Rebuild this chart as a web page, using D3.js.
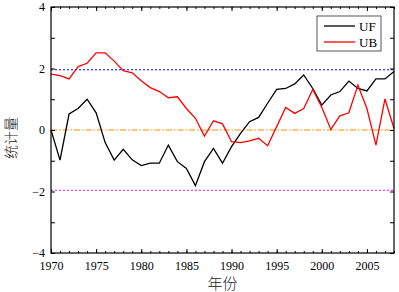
<!DOCTYPE html>
<html><head><meta charset="utf-8">
<script src="https://cdn.jsdelivr.net/npm/d3@7"></script>
<style>body{margin:0;background:#fff}svg{display:block}</style>
</head><body>
<svg id="c" width="399" height="292"></svg>
<script>
const years = d3.range(1970, 2009);
const UF = [0,-0.98,0.52,0.7,1.0,0.56,-0.41,-0.98,-0.63,-0.97,-1.16,-1.08,-1.08,-0.49,-1.03,-1.25,-1.81,-1.03,-0.6,-1.08,-0.54,-0.11,0.27,0.41,0.87,1.32,1.35,1.5,1.79,1.35,0.81,1.14,1.25,1.59,1.35,1.27,1.66,1.66,1.9];
const UB = [1.82,1.77,1.66,2.06,2.17,2.51,2.51,2.24,1.93,1.86,1.6,1.38,1.25,1.05,1.08,0.7,0.38,-0.2,0.3,0.2,-0.38,-0.41,-0.35,-0.27,-0.51,0.11,0.73,0.54,0.7,1.32,0.74,0.02,0.46,0.56,1.46,0.7,-0.49,1.01,0.05];
const xTicks = [1970,1975,1980,1985,1990,1995,2000,2005];
const yTicks = [-4,-2,0,2,4];
const refLines = [{v:1.96,c:"#0000ff",d:"2,2"},{v:0,c:"#ff8c00",d:"6,2,1.5,2"},{v:-1.96,c:"#ff00ff",d:"2,2"}];
const seriesNames = ["UF","UB"];
const seriesColors = ["#000000","#ff0000"];

const L=51,R=394,T=7,B=253;
const svg=d3.select("#c");
const x=d3.scaleLinear().domain([1970,2008]).range([L,R]);
const y=d3.scaleLinear().domain([-4,4]).range([B,T]);
const font="Liberation Serif, Times New Roman, serif";

refLines.forEach(r=>{
  svg.append("line").attr("x1",L).attr("x2",R).attr("y1",y(r.v)).attr("y2",y(r.v))
    .attr("stroke",r.c).attr("stroke-width",1.2).attr("stroke-dasharray",r.d);
});

const line=d3.line().x((d,i)=>x(years[i])).y(d=>y(d));
[UF,UB].forEach((s,k)=>{
  svg.append("path").datum(s).attr("d",line).attr("fill","none")
    .attr("stroke",seriesColors[k]).attr("stroke-width",1.3).attr("stroke-linejoin","miter");
});

svg.append("rect").attr("x",L).attr("y",T).attr("width",R-L).attr("height",B-T)
  .attr("fill","none").attr("stroke","#000").attr("stroke-width",1.2);

const minorX=d3.range(1970,2009);
const gb=svg.append("g").attr("transform",`translate(0,${B})`)
  .call(d3.axisBottom(x).tickValues(minorX).tickSize(-2).tickFormat(""));
const gb2=svg.append("g").attr("transform",`translate(0,${B})`)
  .call(d3.axisBottom(x).tickValues(xTicks).tickSize(-4).tickPadding(8).tickFormat(d3.format("d")));
const gt=svg.append("g").attr("transform",`translate(0,${T})`)
  .call(d3.axisTop(x).tickValues(minorX).tickSize(-2).tickFormat(""));
const gt2=svg.append("g").attr("transform",`translate(0,${T})`)
  .call(d3.axisTop(x).tickValues(xTicks).tickSize(-4).tickFormat(""));
const gl=svg.append("g").attr("transform",`translate(${L},0)`)
  .call(d3.axisLeft(y).tickValues(d3.range(-4,5)).tickSize(-4).tickFormat(""));
const gl2=svg.append("g").attr("transform",`translate(${L},0)`)
  .call(d3.axisLeft(y).tickValues(yTicks).tickSize(0).tickPadding(6).tickFormat(d=>d<0?"\u2212"+Math.abs(d):d));
const gr=svg.append("g").attr("transform",`translate(${R},0)`)
  .call(d3.axisRight(y).tickValues(d3.range(-4,5)).tickSize(-4).tickFormat(""));
[gb,gb2,gt,gt2,gl,gl2,gr].forEach(g=>{
  g.select(".domain").remove();
  g.selectAll("line").attr("stroke","#000").attr("stroke-width",1);
  g.selectAll("text").attr("font-family",font).attr("font-size",12).attr("fill","#000");
});

svg.append("text").attr("x",(L+R)/2).attr("y",289).attr("text-anchor","middle")
  .attr("font-family","Noto Sans CJK SC").attr("font-weight",300).attr("font-size",15).attr("fill","#222").text("年份");
svg.append("text").attr("transform",`translate(16,${(T+B)/2+8}) rotate(-90)`).attr("text-anchor","middle")
  .attr("font-family","Noto Sans CJK SC").attr("font-weight",300).attr("font-size",14).attr("fill","#222").text("统计量");

const lg=svg.append("g");
lg.append("rect").attr("x",317).attr("y",16).attr("width",64).attr("height",35)
  .attr("fill","#fff").attr("stroke","#555").attr("stroke-width",1);
seriesNames.forEach((n,i)=>{
  const yy=26+i*16;
  lg.append("line").attr("x1",324).attr("x2",355).attr("y1",yy).attr("y2",yy)
    .attr("stroke",seriesColors[i]).attr("stroke-width",1.3);
  lg.append("text").attr("x",359).attr("y",yy+5).attr("font-family",font).attr("font-size",13).text(n);
});
</script>
</body></html>
